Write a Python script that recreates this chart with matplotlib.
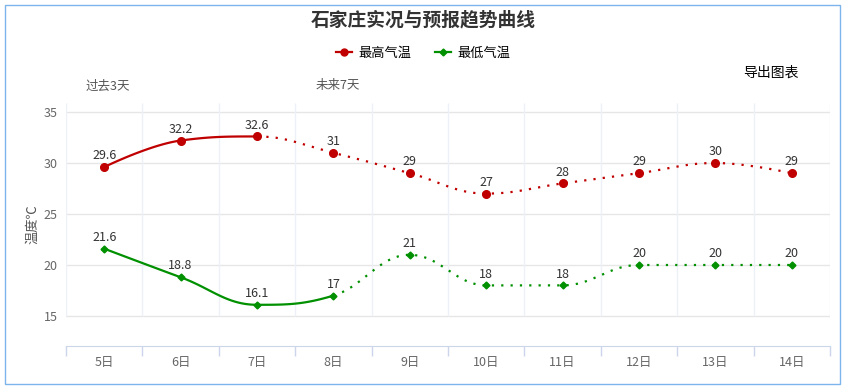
import matplotlib.pyplot as plt
from matplotlib.patches import Rectangle
from matplotlib.lines import Line2D
import numpy as np

plt.rcParams['font.family'] = ['Noto Sans CJK SC', 'DejaVu Sans']

# ---- Data ----
days = ["5日", "6日", "7日", "8日", "9日", "10日", "11日", "12日", "13日", "14日"]
high_temp = [29.6, 32.2, 32.6, 31, 29, 27, 28, 29, 30, 29]
low_temp = [21.6, 18.8, 16.1, 17, 21, 18, 18, 20, 20, 20]
high_solid_until = 2   # index where the forecast (dotted) part starts
low_solid_until = 3
y_ticks = [15, 20, 25, 30, 35]


def spline_segments(ys, n=40):
    # highcharts-style spline, returns list of (xs, ys) per segment
    xs = np.arange(len(ys), dtype=float)
    ys = np.asarray(ys, dtype=float)
    sm, den = 1.5, 2.5
    left = [(xs[i], ys[i]) for i in range(len(ys))]
    right = [(xs[i], ys[i]) for i in range(len(ys))]
    for i in range(1, len(ys) - 1):
        lx = (sm * xs[i] + xs[i - 1]) / den
        ly = (sm * ys[i] + ys[i - 1]) / den
        rx = (sm * xs[i] + xs[i + 1]) / den
        ry = (sm * ys[i] + ys[i + 1]) / den
        if rx != lx:
            corr = (ry - ly) * (rx - xs[i]) / (rx - lx) + ys[i] - ry
            ly += corr
            ry += corr
        if ly > ys[i - 1] and ly > ys[i]:
            ly = max(ys[i - 1], ys[i]); ry = 2 * ys[i] - ly
        elif ly < ys[i - 1] and ly < ys[i]:
            ly = min(ys[i - 1], ys[i]); ry = 2 * ys[i] - ly
        if ry > ys[i + 1] and ry > ys[i]:
            ry = max(ys[i + 1], ys[i]); ly = 2 * ys[i] - ry
        elif ry < ys[i + 1] and ry < ys[i]:
            ry = min(ys[i + 1], ys[i]); ly = 2 * ys[i] - ry
        left[i] = (lx, ly)
        right[i] = (rx, ry)
    segs = []
    t = np.linspace(0, 1, n)[:, None]
    for i in range(len(ys) - 1):
        p0 = np.array([xs[i], ys[i]])
        p1 = np.array(right[i])
        p2 = np.array(left[i + 1])
        p3 = np.array([xs[i + 1], ys[i + 1]])
        b = (1 - t) ** 3 * p0 + 3 * (1 - t) ** 2 * t * p1 + 3 * (1 - t) * t ** 2 * p2 + t ** 3 * p3
        segs.append((b[:, 0], b[:, 1]))
    return segs


def join(segs):
    return (np.concatenate([s[0] for s in segs]), np.concatenate([s[1] for s in segs]))


fig = plt.figure(figsize=(8.46, 3.88), dpi=100)
fig.patches.append(Rectangle((5 / 846, 4 / 388), 835 / 846, 379 / 388, transform=fig.transFigure,
                             fill=False, edgecolor="#7cb5ec", linewidth=1))

ax = fig.add_axes([66 / 846, 42 / 388, 764 / 846, 243 / 388])
ax.set_xlim(-0.5, len(days) - 0.5)
ax.set_ylim(12.06, 35.88)

# grid
for yv in y_ticks:
    ax.axhline(yv, color="#e6e6e6", linewidth=1, zorder=1)
ax.vlines(np.arange(len(days) + 1) - 0.5, 15, 35.88, color="#eef0f8", linewidth=1, zorder=1)

for vals, split, color, marker, ms in [(high_temp, high_solid_until, "#c00000", "o", 5.5),
                                       (low_temp, low_solid_until, "#009000", "D", 3.5)]:
    segs = spline_segments(vals)
    sx, sy = join(segs[:split])
    dx, dy = join(segs[split:])
    ax.plot(sx, sy, color=color, linewidth=1.6, zorder=3, solid_capstyle="round")
    ax.plot(dx, dy, color=color, linewidth=1.6, dashes=(1, 3.2), zorder=3)
    ax.plot(range(len(vals)), vals, linestyle="none", marker=marker, markersize=ms,
            color=color, zorder=4)
    for i, v in enumerate(vals):
        ax.annotate(f"{v:g}", (i, v), xytext=(0, 3.5), textcoords="offset points",
                    ha="center", va="bottom", fontsize=9, color="#333333", zorder=5)

for s in ["top", "right", "left"]:
    ax.spines[s].set_visible(False)
ax.spines["bottom"].set_color("#ccd6eb")

ax.set_xticks(range(len(days)))
ax.set_xticklabels(days)
ax.set_xticks(np.arange(len(days) + 1) - 0.5, minor=True)
ax.tick_params(axis="x", which="major", length=0, pad=7, labelsize=9, labelcolor="#666666")
ax.tick_params(axis="x", which="minor", length=7, color="#ccd6eb", width=1)
ax.set_yticks(y_ticks)
ax.tick_params(axis="y", length=0, pad=6, labelsize=9, labelcolor="#666666")
ax.set_ylabel("温度℃", fontsize=9.5, color="#555555", labelpad=3)

fig.text(423 / 846, 1 - 20 / 388, "石家庄实况与预报趋势曲线", ha="center", va="center",
         fontsize=13.5, fontweight="bold", color="#333333")

handles = [Line2D([], [], color="#c00000", marker="o", markersize=5, linewidth=1.6),
           Line2D([], [], color="#009000", marker="D", markersize=3.5, linewidth=1.6)]
fig.legend(handles, ["最高气温", "最低气温"], loc="center", bbox_to_anchor=(423 / 846, 1 - 53 / 388),
           ncol=2, frameon=False, fontsize=9.5, handlelength=1.2, handletextpad=0.5, columnspacing=1.8)

fig.text(771 / 846, 1 - 73 / 388, "导出图表", ha="center", va="center", fontsize=10, color="#000000")
fig.text(108 / 846, 1 - 86 / 388, "过去3天", ha="center", va="center", fontsize=9, color="#555555")
fig.text(338 / 846, 1 - 86 / 388, "未来7天", ha="center", va="center", fontsize=9, color="#555555")

fig.savefig("out.png", dpi=100)
